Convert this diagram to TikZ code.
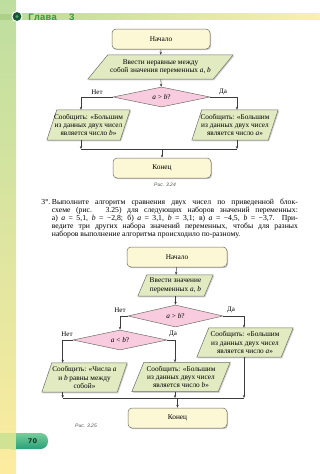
\documentclass[tikz,border=0pt]{standalone}
\usepackage{fontspec}
\setmainfont{Liberation Serif}
\setsansfont{Liberation Sans}
\newfontfamily\monof{Liberation Mono}
\newfontfamily\dejasans{DejaVu Sans}
\usetikzlibrary{arrows.meta,calc,shapes.geometric}
\pgfdeclarelayer{background}
\pgfsetlayers{background,main}

\definecolor{startfill}{RGB}{252,247,212}
\definecolor{boxline}{RGB}{110,110,100}
\definecolor{parfill}{RGB}{226,234,194}
\definecolor{diafill}{RGB}{248,204,222}
\definecolor{stripetop}{RGB}{190,222,160}
\definecolor{stripebot}{RGB}{252,236,160}
\definecolor{stripeband}{RGB}{172,208,135}
\definecolor{headgreen}{RGB}{60,150,70}
\definecolor{bandleft}{RGB}{190,220,150}
\definecolor{bandright}{RGB}{250,240,175}
\definecolor{tabtop}{RGB}{120,205,155}
\definecolor{tabbot}{RGB}{40,160,120}
\definecolor{tabstripe}{RGB}{208,226,148}
\definecolor{icondark}{RGB}{25,85,55}
\definecolor{iconmid}{RGB}{80,160,110}
\definecolor{linegray}{RGB}{60,60,60}
\definecolor{captiongray}{RGB}{80,80,80}
\definecolor{pagenum}{RGB}{25,45,35}

\newcommand\pgram[2]{%
  \fill[black!18] ([xshift=#2pt+1pt,yshift=-1.2pt]#1.north west) -- ([xshift=1pt,yshift=-1.2pt]#1.north east)
     -- ([xshift=-#2pt+1pt,yshift=-1.2pt]#1.south east) -- ([xshift=1pt,yshift=-1.2pt]#1.south west) -- cycle;
  \draw[pgramline] ([xshift=#2pt]#1.north west) -- (#1.north east)
     -- ([xshift=-#2pt]#1.south east) -- (#1.south west) -- cycle;
}

\tikzset{
  flowtext/.style={font=\fontsize{7.3}{8.4}\selectfont, align=center, inner sep=0pt},
  termbox/.style={flowtext, draw=boxline, fill=startfill, rounded corners=4pt, line width=0.5pt,
     minimum width=#1, minimum height=20pt,
     preaction={fill=black!22, transform canvas={xshift=1pt,yshift=-1.2pt}}},
  pgnode/.style={flowtext, minimum width=#1, minimum height=29pt},
  pgramline/.style={draw=boxline, fill=parfill, line width=0.5pt},
  decision/.style={flowtext, diamond, aspect=4, draw=boxline, fill=diafill, line width=0.5pt,
     minimum width=#1, minimum height=21pt},
  flowline/.style={draw=linegray, line width=0.5pt},
  arr/.style={flowline, -{Stealth[length=3pt,width=2.4pt]}},
  lbl/.style={font=\fontsize{7}{8}\selectfont, inner sep=0pt},
  caption/.style={font=\sffamily\itshape\fontsize{5}{6}\selectfont, text=captiongray, inner sep=0pt},
  paraline/.style={font=\fontsize{7.7}{8}\selectfont, inner sep=0pt, anchor=base west},
}

\begin{document}
\begin{tikzpicture}[x=1pt,y=-1pt]
\useasboundingbox (0,0) rectangle (320,474);

% ---------- page decoration ----------
\begin{pgfonlayer}{background}
  \shade[top color=stripetop, bottom color=stripebot] (0,0) rectangle (16,474);
  \shade[left color=bandleft, right color=bandright] (16,13.5) rectangle (320,19.5);
  \fill[stripeband] (0,13.5) rectangle (16,19.5);
  \shade[top color=tabtop, bottom color=tabbot, rounded corners=7.5pt] (4,433) rectangle (48,449);
  \fill[tabstripe] (0,433) rectangle (16,449);
\end{pgfonlayer}

\fill[white] (17,16.5) circle (5.6pt);
\fill[icondark] (17,16.5) circle (4.4pt);
\fill[iconmid] (17,16.5) circle (1.6pt);
\node[anchor=base west, inner sep=0pt, text=headgreen, font=\monof\bfseries\fontsize{9.7}{10}\selectfont] (title) at (28,20) {Глава\ \ 3};
\node[font=\dejasans\bfseries\fontsize{6.5}{7}\selectfont, text=pagenum, inner sep=0pt] (pnum) at (32.5,441) {70};

% ---------- flowchart 3.24 ----------
\node[termbox=98pt] (s1) at (161,39) {Начало};
\node[pgnode=145pt, minimum height=24pt] (i1) at (160.5,67) {Ввести неравные между\\собой значения переменных \textit{a}, \textit{b}};
\node[decision=97pt, minimum height=20pt] (d1) at (161.5,97) {\textit{a} > \textit{b}?};
\node[pgnode=83pt, minimum height=30pt] (o1L) at (88.5,125) {Сообщить: «Большим\\из данных двух чисел\\является число \textit{b}»};
\node[pgnode=86pt, minimum height=30pt] (o1R) at (235,125) {Сообщить: «Большим\\из данных двух чисел\\является число \textit{a}»};
\node[termbox=98pt] (e1) at (162,168) {Конец};
\node[lbl] (n1) at (97,92) {Нет};
\node[lbl] (y1) at (223,92) {Да};
\node[caption] (cap1) at (165,185) {Рис. 3.24};

\coordinate (L1) at (81,149);
\coordinate (R1) at (237,149);
\draw[arr] (s1) -- (i1);
\draw[arr] (i1) -- (d1);
\draw[arr] (d1.west) -| (o1L.north -| L1);
\draw[arr] (d1.east) -| (o1R.north -| R1);
\draw[arr] (o1L.south -| L1) -- (L1);
\draw[arr] (o1R.south -| R1) -- (R1);
\draw[flowline] (L1) -- (R1);
\draw[arr] (e1.north |- L1) -- (e1.north);

% ---------- exercise text ----------
\node[paraline, anchor=base east] (t0) at (50.5,204) {3°.};
\node[paraline] (t1) at (51.7,204) {\hbox to 246pt{Выполните алгоритм сравнения двух чисел по приведенной блок-}};
\node[paraline] (t2) at (51.7,212) {\hbox to 246pt{схеме (рис. 3.25) для следующих наборов значений переменных:}};
\node[paraline] (t3) at (51.7,220) {\hbox to 246pt{а) \textit{a} = 5,1, \textit{b} = −2,8; б) \textit{a} = 3,1, \textit{b} = 3,1; в) \textit{a} = −4,5, \textit{b} = −3,7. При-}};
\node[paraline] (t4) at (51.7,228) {\hbox to 246pt{ведите три других набора значений переменных, чтобы для разных}};
\node[paraline] (t5) at (51.7,236) {наборов выполнение алгоритма происходило по-разному.};

% ---------- flowchart 3.25 ----------
\node[termbox=100pt] (s2) at (177,257) {Начало};
\node[pgnode=75pt, minimum height=21pt] (i2) at (175.5,285.5) {Ввести значение\\переменных \textit{a}, \textit{b}};
\node[decision=95pt, minimum height=22pt] (d2) at (175.5,316) {\textit{a} > \textit{b}?};
\node[decision=94pt, minimum height=20pt] (d3) at (120,340) {\textit{a} < \textit{b}?};
\node[pgnode=85pt] (o2a) at (84.5,377.5) {Сообщить: «Числа \textit{a}\\и \textit{b} равны между\\собой»};
\node[pgnode=98pt] (o2b) at (181,377) {Сообщить: «Большим\\из данных двух чисел\\является число \textit{b}»};
\node[pgnode=96pt] (o2c) at (245,342.5) {Сообщить: «Большим\\из данных двух чисел\\является число \textit{a}»};
\node[termbox=99pt] (e2) at (177.5,418) {Конец};
\node[lbl] (n2) at (120,310) {Нет};
\node[lbl] (y2) at (231,310) {Да};
\node[lbl] (n3) at (67,334) {Нет};
\node[lbl] (y3) at (173,334) {Да};
\node[caption] (cap2) at (86,426) {Рис. 3.25};

\coordinate (M2a) at (62.7,398);
\coordinate (M2b) at (175,398);
\coordinate (M2c) at (244,398);
\draw[arr] (s2) -- (i2);
\draw[arr] (i2) -- (d2);
\draw[arr] (d2.west) -| (d3.north);
\draw[arr] (d3.west) -| (o2a.north -| M2a);
\draw[arr] (d3.east) -| (o2b.north -| M2b);
\draw[arr] (d2.east) -| (o2c.north -| M2c);
\draw[arr] (o2a.south -| M2a) -- (M2a);
\draw[arr] (o2b.south -| M2b) -- (M2b);
\draw[arr] (o2c.south -| M2c) -- (M2c);
\draw[flowline] (M2a) -- (M2c);
\draw[arr] (e2.north |- M2a) -- (e2.north);

% ---------- parallelogram outlines ----------
\begin{pgfonlayer}{background}
  \pgram{i1}{20}
  \pgram{o1L}{10}
  \pgram{o1R}{10}
  \pgram{i2}{9}
  \pgram{o2a}{10}
  \pgram{o2b}{12}
  \pgram{o2c}{12}
\end{pgfonlayer}
\end{tikzpicture}
\end{document}
